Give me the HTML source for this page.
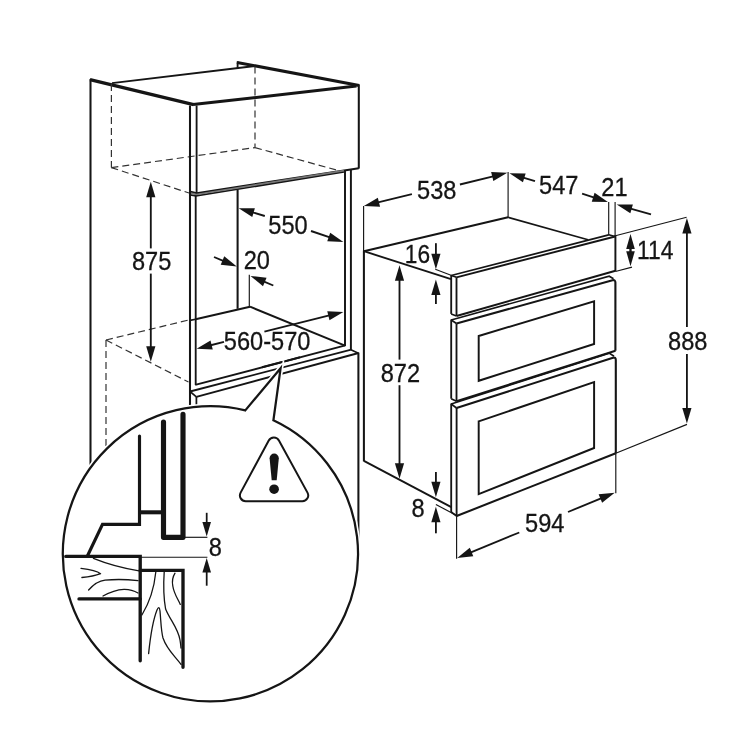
<!DOCTYPE html>
<html><head><meta charset="utf-8"><title>Built-in oven dimensions</title>
<style>
html,body{margin:0;padding:0;background:#fff;}
body{width:750px;height:750px;overflow:hidden;}
svg{display:block;will-change:transform;}
text{font-family:"Liberation Sans",sans-serif;}
</style></head><body>
<svg width="750" height="750" viewBox="0 0 750 750">
<rect x="0" y="0" width="750" height="750" fill="#ffffff"/>
<line x1="90.5" y1="79.0" x2="90.5" y2="470" stroke="#151515" stroke-width="2.05" stroke-linecap="butt"/>
<line x1="90.0" y1="79.6" x2="193.6" y2="104.7" stroke="#151515" stroke-width="3.25" stroke-linecap="butt"/>
<line x1="112" y1="83.2" x2="255" y2="66.0" stroke="#151515" stroke-width="1.85" stroke-linecap="butt"/>
<line x1="237.6" y1="61.4" x2="237.6" y2="68.6" stroke="#151515" stroke-width="1.85" stroke-linecap="butt"/>
<line x1="237.0" y1="62.4" x2="359.2" y2="85.4" stroke="#151515" stroke-width="3.05" stroke-linecap="butt"/>
<line x1="193" y1="104.6" x2="356.5" y2="86.0" stroke="#151515" stroke-width="3.05" stroke-linecap="butt"/>
<line x1="358.8" y1="84.6" x2="358.8" y2="168.6" stroke="#151515" stroke-width="2.05" stroke-linecap="butt"/>
<polyline points="189.4,191.5 196.7,193.2 358.8,168.3" fill="none" stroke="#151515" stroke-width="2.05" stroke-linejoin="miter" stroke-linecap="butt"/>
<polyline points="190.2,194.8 196.0,195.9 343.9,171.8" fill="none" stroke="#151515" stroke-width="1.85" stroke-linejoin="miter" stroke-linecap="butt"/>
<path d="M190.5,193.1 L196.3,194.5 L344,170.6" fill="none" stroke="#777" stroke-width="1.65" stroke-linecap="butt" stroke-linejoin="round"/>
<line x1="111.4" y1="84" x2="111.4" y2="167.6" stroke="#333" stroke-width="1.2" stroke-linecap="butt" stroke-dasharray="7 4"/>
<line x1="111.4" y1="167.6" x2="255" y2="147.6" stroke="#333" stroke-width="1.2" stroke-linecap="butt" stroke-dasharray="7 4"/>
<line x1="111.4" y1="167.6" x2="189" y2="193" stroke="#333" stroke-width="1.2" stroke-linecap="butt" stroke-dasharray="7 4"/>
<line x1="255" y1="66.5" x2="255" y2="147.6" stroke="#333" stroke-width="1.2" stroke-linecap="butt" stroke-dasharray="7 4"/>
<line x1="255" y1="147.6" x2="340" y2="171" stroke="#333" stroke-width="1.2" stroke-linecap="butt" stroke-dasharray="7 4"/>
<line x1="190" y1="105.5" x2="190" y2="408" stroke="#151515" stroke-width="2.05" stroke-linecap="butt"/>
<line x1="196.6" y1="105.5" x2="196.6" y2="193" stroke="#151515" stroke-width="1.85" stroke-linecap="butt"/>
<line x1="195.7" y1="195.5" x2="195.7" y2="385" stroke="#151515" stroke-width="1.85" stroke-linecap="butt"/>
<line x1="345.0" y1="170.5" x2="345.0" y2="346" stroke="#151515" stroke-width="1.95" stroke-linecap="butt"/>
<line x1="350.9" y1="169.8" x2="350.9" y2="350" stroke="#151515" stroke-width="1.95" stroke-linecap="butt"/>
<line x1="237.6" y1="189.5" x2="237.6" y2="308.8" stroke="#151515" stroke-width="2.05" stroke-linecap="butt"/>
<line x1="249.3" y1="274.8" x2="249.3" y2="306.8" stroke="#151515" stroke-width="1.15" stroke-linecap="butt"/>
<line x1="190" y1="320.4" x2="195.6" y2="319.2" stroke="#151515" stroke-width="1.65" stroke-linecap="butt"/>
<line x1="195.6" y1="319.2" x2="250" y2="306.7" stroke="#151515" stroke-width="1.95" stroke-linecap="butt"/>
<line x1="250" y1="306.7" x2="345.0" y2="345.6" stroke="#151515" stroke-width="1.95" stroke-linecap="butt"/>
<line x1="195.2" y1="384.9" x2="345.4" y2="345.4" stroke="#151515" stroke-width="1.95" stroke-linecap="butt"/>
<line x1="190" y1="391.5" x2="351.2" y2="349.6" stroke="#151515" stroke-width="1.85" stroke-linecap="butt"/>
<line x1="196.4" y1="396.8" x2="358.6" y2="353.0" stroke="#151515" stroke-width="1.85" stroke-linecap="butt"/>
<line x1="190" y1="391.5" x2="196.4" y2="396.8" stroke="#151515" stroke-width="1.65" stroke-linecap="butt"/>
<line x1="350.9" y1="349.8" x2="358.4" y2="353.2" stroke="#151515" stroke-width="1.65" stroke-linecap="butt"/>
<line x1="196.4" y1="396.8" x2="196.4" y2="408" stroke="#151515" stroke-width="1.75" stroke-linecap="butt"/>
<line x1="358.4" y1="352.6" x2="358.4" y2="540" stroke="#151515" stroke-width="2.05" stroke-linecap="butt"/>
<line x1="106" y1="340" x2="189.4" y2="319.8" stroke="#333" stroke-width="1.2" stroke-linecap="butt" stroke-dasharray="7 4"/>
<line x1="106" y1="340" x2="188.5" y2="382" stroke="#333" stroke-width="1.2" stroke-linecap="butt" stroke-dasharray="7 4"/>
<line x1="106" y1="340" x2="106" y2="448" stroke="#333" stroke-width="1.2" stroke-linecap="butt" stroke-dasharray="7 4"/>
<path d="M245.30,410.39 L280.6,368.2 L273.40,420.32 A147.6,147.6 0 1 1 245.30,410.39 Z" fill="#fff" stroke="#fff" stroke-width="5.5" stroke-linejoin="miter" stroke-miterlimit="10"/>
<path d="M245.30,410.39 L280.6,368.2 L273.40,420.32 A147.6,147.6 0 1 1 245.30,410.39 Z" fill="#fff" stroke="#151515" stroke-width="2.25" stroke-linejoin="miter" stroke-miterlimit="10"/>
<line x1="262" y1="367.3" x2="282.2" y2="362.0" stroke="#151515" stroke-width="1.95" stroke-linecap="butt"/>
<line x1="284.6" y1="361.4" x2="300" y2="357.3" stroke="#151515" stroke-width="1.95" stroke-linecap="butt"/>
<polyline points="139.5,436 139.5,524.3 102.5,524.3 87.4,556" fill="none" stroke="#151515" stroke-width="3.15" stroke-linejoin="miter" stroke-linecap="round"/>
<line x1="139.5" y1="512.3" x2="163.5" y2="512.3" stroke="#151515" stroke-width="4.05" stroke-linecap="butt"/>
<polyline points="163.5,422 163.5,537.3 183,537.3 183,414.4" fill="none" stroke="#151515" stroke-width="5.15" stroke-linejoin="round" stroke-linecap="round"/>
<polyline points="65.8,556.4 140.2,556.4 140.2,660.8" fill="none" stroke="#151515" stroke-width="3.35" stroke-linejoin="miter" stroke-linecap="round"/>
<polyline points="140.2,570.3 183,570.3 183,667.3" fill="none" stroke="#151515" stroke-width="3.35" stroke-linejoin="miter" stroke-linecap="round"/>
<line x1="79" y1="598.9" x2="140.2" y2="598.9" stroke="#151515" stroke-width="3.35" stroke-linecap="round"/>
<line x1="184.6" y1="537.3" x2="207.4" y2="537.3" stroke="#151515" stroke-width="1.15" stroke-linecap="butt"/>
<line x1="141" y1="557.2" x2="207.4" y2="557.2" stroke="#151515" stroke-width="1.15" stroke-linecap="butt"/>
<path d="M93.4,558.3 C105,563 122,568 139,570.8" fill="none" stroke="#151515" stroke-width="1.3" stroke-linecap="round" stroke-linejoin="round"/>
<path d="M81,568.4 C90,569.5 97,571 100.6,573.7 C96,575.5 90,576.8 81.9,577.5" fill="none" stroke="#151515" stroke-width="1.3" stroke-linecap="round" stroke-linejoin="round"/>
<path d="M88.6,590 C94,584 98,581 105,580.2 C116,579 128,579.5 138,580.6" fill="none" stroke="#151515" stroke-width="1.3" stroke-linecap="round" stroke-linejoin="round"/>
<path d="M103,596 C110,592 118,589.6 124,589.3 C130,589.2 134,590.5 138,593" fill="none" stroke="#151515" stroke-width="1.3" stroke-linecap="round" stroke-linejoin="round"/>
<path d="M155.8,572 C154,590 148,605 141.9,615" fill="none" stroke="#151515" stroke-width="1.3" stroke-linecap="round" stroke-linejoin="round"/>
<path d="M164.2,572 C163,590 164,600 165.6,609 C170,620 178,628 180,640 C180.5,643 180.8,645 181,648" fill="none" stroke="#151515" stroke-width="1.3" stroke-linecap="round" stroke-linejoin="round"/>
<path d="M175,573.2 C172,578 172,582 172.8,586 C174,594 178,599 180.3,604.4" fill="none" stroke="#151515" stroke-width="1.3" stroke-linecap="round" stroke-linejoin="round"/>
<path d="M148.6,653.6 C150,640 153,620 157,610 C158.5,606.5 159.5,607 160,611 C161,622 161,630 163,638 C167,650 175,656 181,664.4" fill="none" stroke="#151515" stroke-width="1.3" stroke-linecap="round" stroke-linejoin="round"/>
<line x1="206.7" y1="512.8" x2="206.7" y2="524.1" stroke="#151515" stroke-width="1.75" stroke-linecap="butt"/>
<polygon points="206.7,536.6 202.4,522.1 211.0,522.1" fill="#151515"/>
<line x1="206.7" y1="585.7" x2="206.7" y2="570.5" stroke="#151515" stroke-width="1.75" stroke-linecap="butt"/>
<polygon points="206.7,558.0 211.0,572.5 202.4,572.5" fill="#151515"/>
<text transform="translate(215.3,556.2) scale(0.915,1)" font-size="25.8" text-anchor="middle" fill="#151515" stroke="#151515" stroke-width="0.3">8</text>
<path d="M268.74,440.58 A5.8,5.8 0 0 1 278.93,440.54 L307.49,492.61 A5.8,5.8 0 0 1 302.40,501.20 L245.72,501.20 A5.8,5.8 0 0 1 240.62,492.64 Z" fill="none" stroke="#151515" stroke-width="2.0"/>
<path d="M269.6,458.2 A4.6,4.6 0 0 1 278.8,458.2 L276.7,480.2 L271.7,480.2 Z" fill="#151515"/>
<circle cx="274.1" cy="489.2" r="4.8" fill="#151515"/>
<line x1="363.6" y1="206.0" x2="363.6" y2="251" stroke="#151515" stroke-width="1.15" stroke-linecap="butt"/>
<line x1="508.1" y1="172" x2="508.1" y2="217.3" stroke="#151515" stroke-width="1.15" stroke-linecap="butt"/>
<line x1="608.7" y1="202" x2="608.7" y2="235" stroke="#151515" stroke-width="1.15" stroke-linecap="butt"/>
<line x1="615.1" y1="202" x2="615.1" y2="236.5" stroke="#151515" stroke-width="1.15" stroke-linecap="butt"/>
<line x1="363.9" y1="250.6" x2="363.9" y2="461.4" stroke="#151515" stroke-width="2.05" stroke-linecap="butt"/>
<line x1="363.9" y1="251.2" x2="508.1" y2="217.3" stroke="#151515" stroke-width="2.05" stroke-linecap="butt"/>
<line x1="363.9" y1="251.2" x2="451.0" y2="279.2" stroke="#151515" stroke-width="1.85" stroke-linecap="butt"/>
<line x1="508.1" y1="217.3" x2="588" y2="239.8" stroke="#151515" stroke-width="1.65" stroke-linecap="butt"/>
<line x1="363.9" y1="460.8" x2="451.3" y2="507.2" stroke="#151515" stroke-width="1.95" stroke-linecap="butt"/>
<polyline points="451.2,275.5 608.7,234.8" fill="none" stroke="#151515" stroke-width="1.75" stroke-linejoin="miter" stroke-linecap="butt"/>
<polyline points="456.5,277.3 615.1,236.5" fill="none" stroke="#151515" stroke-width="1.85" stroke-linejoin="miter" stroke-linecap="butt"/>
<line x1="451.2" y1="275.5" x2="456.5" y2="277.3" stroke="#151515" stroke-width="1.65" stroke-linecap="butt"/>
<line x1="608.7" y1="234.8" x2="615.1" y2="236.5" stroke="#151515" stroke-width="1.65" stroke-linecap="butt"/>
<line x1="451.2" y1="275.0" x2="451.2" y2="313.9" stroke="#151515" stroke-width="1.85" stroke-linecap="butt"/>
<line x1="456.5" y1="277.3" x2="456.5" y2="316" stroke="#151515" stroke-width="1.85" stroke-linecap="butt"/>
<line x1="451.2" y1="313.9" x2="456.5" y2="316" stroke="#151515" stroke-width="1.65" stroke-linecap="butt"/>
<line x1="456.5" y1="316" x2="615.5" y2="270.7" stroke="#151515" stroke-width="1.95" stroke-linecap="butt"/>
<line x1="615.4" y1="235.2" x2="615.4" y2="271.2" stroke="#151515" stroke-width="1.95" stroke-linecap="butt"/>
<polyline points="451.2,320 609.2,276.2 613.5,278.7" fill="none" stroke="#151515" stroke-width="1.65" stroke-linejoin="miter" stroke-linecap="butt"/>
<path d="M456.5,323.5 L612.5,280.3 Q615.4,279.6 615.4,282.5 L615.4,350.7" fill="none" stroke="#151515" stroke-width="2.1" stroke-linecap="butt" stroke-linejoin="round"/>
<line x1="451.2" y1="320" x2="456.5" y2="323.5" stroke="#151515" stroke-width="1.65" stroke-linecap="butt"/>
<line x1="451.2" y1="319.5" x2="451.2" y2="398.7" stroke="#151515" stroke-width="1.85" stroke-linecap="butt"/>
<line x1="456.5" y1="323.5" x2="456.5" y2="401.3" stroke="#151515" stroke-width="1.85" stroke-linecap="butt"/>
<line x1="451.2" y1="398.7" x2="456.5" y2="401.3" stroke="#151515" stroke-width="1.65" stroke-linecap="butt"/>
<line x1="456.5" y1="401.3" x2="615.5" y2="350.7" stroke="#151515" stroke-width="2.05" stroke-linecap="butt"/>
<polygon points="478.7,336 594.1,301.3 594.1,344 478.7,380.8" fill="none" stroke="#151515" stroke-width="1.95" stroke-linejoin="miter" stroke-linecap="butt"/>
<polyline points="451.2,404 609.2,353.1 614,356.3" fill="none" stroke="#151515" stroke-width="1.65" stroke-linejoin="miter" stroke-linecap="butt"/>
<path d="M456.5,408 L613,357.8 Q615.8,357 615.8,360 L615.8,453.3" fill="none" stroke="#151515" stroke-width="2.1" stroke-linecap="butt" stroke-linejoin="round"/>
<line x1="451.2" y1="404" x2="456.5" y2="408" stroke="#151515" stroke-width="1.65" stroke-linecap="butt"/>
<line x1="451.2" y1="403.5" x2="451.2" y2="512" stroke="#151515" stroke-width="1.85" stroke-linecap="butt"/>
<line x1="456.6" y1="408" x2="456.6" y2="516" stroke="#151515" stroke-width="1.85" stroke-linecap="butt"/>
<line x1="451.2" y1="512" x2="456.6" y2="516" stroke="#151515" stroke-width="1.65" stroke-linecap="butt"/>
<line x1="456.6" y1="516" x2="615.8" y2="453.3" stroke="#151515" stroke-width="2.05" stroke-linecap="butt"/>
<polygon points="478.7,421.3 594.1,382.1 594.1,448 478.7,494.1" fill="none" stroke="#151515" stroke-width="1.95" stroke-linejoin="miter" stroke-linecap="butt"/>
<line x1="615.4" y1="235.7" x2="686.6" y2="217.2" stroke="#151515" stroke-width="1.15" stroke-linecap="butt"/>
<line x1="615.4" y1="271.5" x2="632" y2="267.1" stroke="#151515" stroke-width="1.15" stroke-linecap="butt"/>
<line x1="615.8" y1="453.3" x2="687" y2="424.4" stroke="#151515" stroke-width="1.15" stroke-linecap="butt"/>
<line x1="615.8" y1="453.3" x2="615.8" y2="493.3" stroke="#151515" stroke-width="1.15" stroke-linecap="butt"/>
<line x1="456.6" y1="516" x2="456.6" y2="558.7" stroke="#151515" stroke-width="1.15" stroke-linecap="butt"/>
<line x1="435.3" y1="269.3" x2="451" y2="275.3" stroke="#151515" stroke-width="1.15" stroke-linecap="butt"/>
<line x1="435.9" y1="504.5" x2="456.1" y2="515.2" stroke="#151515" stroke-width="1.15" stroke-linecap="butt"/>
<line x1="150.8" y1="248.4" x2="150.8" y2="195.3" stroke="#151515" stroke-width="1.85" stroke-linecap="butt"/>
<polygon points="150.8,181.8 155.4,197.3 146.2,197.3" fill="#151515"/>
<line x1="150.8" y1="273.6" x2="150.8" y2="348.3" stroke="#151515" stroke-width="1.85" stroke-linecap="butt"/>
<polygon points="150.8,361.8 146.2,346.3 155.4,346.3" fill="#151515"/>
<text transform="translate(151.6,270.3) scale(0.915,1)" font-size="25.8" text-anchor="middle" fill="#151515" stroke="#151515" stroke-width="0.3">875</text>
<line x1="264.8" y1="216" x2="251.65" y2="212.12" stroke="#151515" stroke-width="1.85" stroke-linecap="butt"/>
<polygon points="238.7,208.3 254.87,208.27 252.26,217.1" fill="#151515"/>
<line x1="311" y1="231" x2="330.62" y2="237.66" stroke="#151515" stroke-width="1.85" stroke-linecap="butt"/>
<polygon points="343.4,242 327.24,241.37 330.2,232.66" fill="#151515"/>
<text transform="translate(288,234.0) scale(0.915,1)" font-size="25.8" text-anchor="middle" fill="#151515" stroke="#151515" stroke-width="0.3">550</text>
<line x1="214" y1="257" x2="224.34" y2="261.31" stroke="#151515" stroke-width="1.85" stroke-linecap="butt"/>
<polygon points="236.8,266.5 220.72,264.78 224.26,256.29" fill="#151515"/>
<line x1="273.3" y1="285.5" x2="262.94" y2="281.14" stroke="#151515" stroke-width="1.85" stroke-linecap="butt"/>
<polygon points="250.5,275.9 266.57,277.68 263.0,286.15" fill="#151515"/>
<text transform="translate(256.8,269.2) scale(0.915,1)" font-size="25.8" text-anchor="middle" fill="#151515" stroke="#151515" stroke-width="0.3">20</text>
<line x1="224" y1="341.9" x2="209.69" y2="345.5" stroke="#151515" stroke-width="1.85" stroke-linecap="butt"/>
<polygon points="196.6,348.8 210.51,340.55 212.75,349.48" fill="#151515"/>
<line x1="264.4" y1="331.7" x2="330.31" y2="315.18" stroke="#151515" stroke-width="1.85" stroke-linecap="butt"/>
<polygon points="343.4,311.9 329.48,320.13 327.25,311.21" fill="#151515"/>
<text transform="translate(267.1,350.0) scale(0.915,1)" font-size="25.8" text-anchor="middle" fill="#151515" stroke="#151515" stroke-width="0.3">560-570</text>
<line x1="411.9" y1="194.1" x2="377.01" y2="202.68" stroke="#151515" stroke-width="1.85" stroke-linecap="butt"/>
<polygon points="363.9,205.9 377.85,197.73 380.05,206.67" fill="#151515"/>
<line x1="459.9" y1="184.5" x2="494.19" y2="176.04" stroke="#151515" stroke-width="1.85" stroke-linecap="butt"/>
<polygon points="507.3,172.8 493.35,180.98 491.15,172.05" fill="#151515"/>
<text transform="translate(436.7,199.2) scale(0.915,1)" font-size="25.8" text-anchor="middle" fill="#151515" stroke="#151515" stroke-width="0.3">538</text>
<line x1="535" y1="181.2" x2="522.4" y2="177.3" stroke="#151515" stroke-width="1.85" stroke-linecap="butt"/>
<polygon points="509.5,173.3 525.67,173.49 522.94,182.28" fill="#151515"/>
<line x1="582.1" y1="193.7" x2="595.05" y2="197.87" stroke="#151515" stroke-width="1.85" stroke-linecap="butt"/>
<polygon points="607.9,202 591.74,201.63 594.55,192.87" fill="#151515"/>
<text transform="translate(558.7,194.2) scale(0.915,1)" font-size="25.8" text-anchor="middle" fill="#151515" stroke="#151515" stroke-width="0.3">547</text>
<line x1="651" y1="214.3" x2="629.69" y2="208.27" stroke="#151515" stroke-width="1.85" stroke-linecap="butt"/>
<polygon points="616.7,204.6 632.87,204.39 630.36,213.24" fill="#151515"/>
<text transform="translate(614.4,196.3) scale(0.915,1)" font-size="25.8" text-anchor="middle" fill="#151515" stroke="#151515" stroke-width="0.3">21</text>
<line x1="630.5" y1="252" x2="630.5" y2="246.9" stroke="#151515" stroke-width="1.85" stroke-linecap="butt"/>
<polygon points="630.5,233.9 634.8,248.9 626.2,248.9" fill="#151515"/>
<line x1="630.5" y1="248" x2="630.5" y2="253.2" stroke="#151515" stroke-width="1.85" stroke-linecap="butt"/>
<polygon points="630.5,266.2 626.2,251.2 634.8,251.2" fill="#151515"/>
<text transform="translate(655.2,258.8) scale(0.885,1)" font-size="25.8" text-anchor="middle" fill="#151515" stroke="#151515" stroke-width="0.3">114</text>
<line x1="686.9" y1="327" x2="686.9" y2="231.6" stroke="#151515" stroke-width="1.85" stroke-linecap="butt"/>
<polygon points="686.9,218.1 691.5,233.6 682.3,233.6" fill="#151515"/>
<line x1="686.9" y1="354" x2="686.9" y2="410.1" stroke="#151515" stroke-width="1.85" stroke-linecap="butt"/>
<polygon points="686.9,423.6 682.3,408.1 691.5,408.1" fill="#151515"/>
<text transform="translate(687.7,349.7) scale(0.915,1)" font-size="25.8" text-anchor="middle" fill="#151515" stroke="#151515" stroke-width="0.3">888</text>
<line x1="435.9" y1="243.2" x2="435.9" y2="255.8" stroke="#151515" stroke-width="1.85" stroke-linecap="butt"/>
<polygon points="435.9,269.3 431.3,253.8 440.5,253.8" fill="#151515"/>
<line x1="435.9" y1="304" x2="435.9" y2="293.0" stroke="#151515" stroke-width="1.85" stroke-linecap="butt"/>
<polygon points="435.9,279.5 440.5,295.0 431.3,295.0" fill="#151515"/>
<text transform="translate(417.5,263.2) scale(0.88,1)" font-size="25.8" text-anchor="middle" fill="#151515" stroke="#151515" stroke-width="0.3">16</text>
<line x1="399.5" y1="359.6" x2="399.5" y2="278.8" stroke="#151515" stroke-width="1.85" stroke-linecap="butt"/>
<polygon points="399.5,265.3 404.1,280.8 394.9,280.8" fill="#151515"/>
<line x1="399.5" y1="385.2" x2="399.5" y2="465.2" stroke="#151515" stroke-width="1.85" stroke-linecap="butt"/>
<polygon points="399.5,478.7 394.9,463.2 404.1,463.2" fill="#151515"/>
<text transform="translate(400.4,381.7) scale(0.915,1)" font-size="25.8" text-anchor="middle" fill="#151515" stroke="#151515" stroke-width="0.3">872</text>
<line x1="435.9" y1="472" x2="435.9" y2="483.8" stroke="#151515" stroke-width="1.85" stroke-linecap="butt"/>
<polygon points="435.9,497.3 431.3,481.8 440.5,481.8" fill="#151515"/>
<line x1="435.9" y1="533.3" x2="435.9" y2="520.2" stroke="#151515" stroke-width="1.85" stroke-linecap="butt"/>
<polygon points="435.9,506.7 440.5,522.2 431.3,522.2" fill="#151515"/>
<text transform="translate(418,516.5) scale(0.915,1)" font-size="25.8" text-anchor="middle" fill="#151515" stroke="#151515" stroke-width="0.3">8</text>
<line x1="519.3" y1="532.5" x2="469.7" y2="552.79" stroke="#151515" stroke-width="1.85" stroke-linecap="butt"/>
<polygon points="457.2,557.9 469.8,547.77 473.29,556.29" fill="#151515"/>
<line x1="568" y1="512" x2="602.22" y2="497.86" stroke="#151515" stroke-width="1.85" stroke-linecap="butt"/>
<polygon points="614.7,492.7 602.13,502.87 598.62,494.37" fill="#151515"/>
<text transform="translate(544.8,532.0) scale(0.915,1)" font-size="25.8" text-anchor="middle" fill="#151515" stroke="#151515" stroke-width="0.3">594</text>
</svg>
</body></html>
